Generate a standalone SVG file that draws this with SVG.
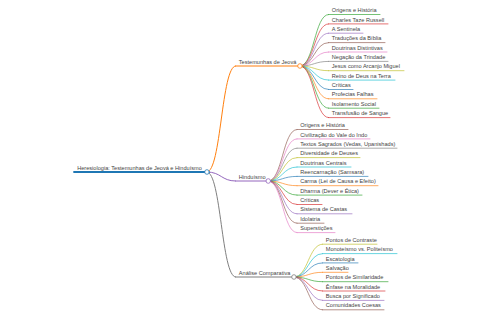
<svg xmlns="http://www.w3.org/2000/svg" width="480" height="320" viewBox="0 0 480 320">
<style>
text{font-family:"Liberation Sans",Arial,sans-serif;font-size:5.6px;fill:#444}
line,path,circle{fill:none;stroke-linecap:round}
.d0{stroke-width:1.8}.d1{stroke-width:1}.d2{stroke-width:0.65}
circle{fill:#fff;stroke-width:0.8}
.c0{stroke:#1f77b4}.c1{stroke:#ff7f0e}.c2{stroke:#2ca02c}.c3{stroke:#d62728}.c4{stroke:#9467bd}
.c5{stroke:#8c564b}.c6{stroke:#e377c2}.c7{stroke:#7f7f7f}.c8{stroke:#bcbd22}.c9{stroke:#17becf}
</style>
<rect width="480" height="320" fill="#fff"/>
<g id="connectors">
<path class="d1 c1" d="M207,172 C221.3,172 221.3,66 235.6,66"/>
<path class="d1 c4" d="M207,172 C221.3,172 221.3,181 235.6,181"/>
<path class="d1 c7" d="M207,172 C221.3,172 221.3,277 235.6,277"/>
<path class="d2 c2" d="M300,66 C314.3,66 314.3,14.5 328.6,14.5"/>
<path class="d2 c3" d="M300,66 C314.3,66 314.3,23.9 328.6,23.9"/>
<path class="d2 c4" d="M300,66 C314.3,66 314.3,33.2 328.6,33.2"/>
<path class="d2 c5" d="M300,66 C314.3,66 314.3,42.6 328.6,42.6"/>
<path class="d2 c6" d="M300,66 C314.3,66 314.3,52 328.6,52"/>
<path class="d2 c7" d="M300,66 C314.3,66 314.3,61.4 328.6,61.4"/>
<path class="d2 c8" d="M300,66 C314.3,66 314.3,70.7 328.6,70.7"/>
<path class="d2 c9" d="M300,66 C314.3,66 314.3,80.1 328.6,80.1"/>
<path class="d2 c0" d="M300,66 C314.3,66 314.3,89.5 328.6,89.5"/>
<path class="d2 c1" d="M300,66 C314.3,66 314.3,98.8 328.6,98.8"/>
<path class="d2 c2" d="M300,66 C314.3,66 314.3,108.2 328.6,108.2"/>
<path class="d2 c3" d="M300,66 C314.3,66 314.3,117.6 328.6,117.6"/>
<path class="d2 c5" d="M268.3,181 C282.6,181 282.6,129.5 297,129.5"/>
<path class="d2 c6" d="M268.3,181 C282.6,181 282.6,138.9 297,138.9"/>
<path class="d2 c7" d="M268.3,181 C282.6,181 282.6,148.2 297,148.2"/>
<path class="d2 c8" d="M268.3,181 C282.6,181 282.6,157.6 297,157.6"/>
<path class="d2 c9" d="M268.3,181 C282.6,181 282.6,167 297,167"/>
<path class="d2 c0" d="M268.3,181 C282.6,181 282.6,176.4 297,176.4"/>
<path class="d2 c1" d="M268.3,181 C282.6,181 282.6,185.7 297,185.7"/>
<path class="d2 c2" d="M268.3,181 C282.6,181 282.6,195.1 297,195.1"/>
<path class="d2 c3" d="M268.3,181 C282.6,181 282.6,204.5 297,204.5"/>
<path class="d2 c4" d="M268.3,181 C282.6,181 282.6,213.8 297,213.8"/>
<path class="d2 c5" d="M268.3,181 C282.6,181 282.6,223.2 297,223.2"/>
<path class="d2 c6" d="M268.3,181 C282.6,181 282.6,232.6 297,232.6"/>
<path class="d2 c8" d="M294,277 C308.3,277 308.3,244.2 322.6,244.2"/>
<path class="d2 c9" d="M294,277 C308.3,277 308.3,253.6 322.6,253.6"/>
<path class="d2 c0" d="M294,277 C308.3,277 308.3,262.9 322.6,262.9"/>
<path class="d2 c1" d="M294,277 C308.3,277 308.3,272.3 322.6,272.3"/>
<path class="d2 c2" d="M294,277 C308.3,277 308.3,281.7 322.6,281.7"/>
<path class="d2 c3" d="M294,277 C308.3,277 308.3,291 322.6,291"/>
<path class="d2 c4" d="M294,277 C308.3,277 308.3,300.4 322.6,300.4"/>
<path class="d2 c5" d="M294,277 C308.3,277 308.3,309.8 322.6,309.8"/>
</g>
<g id="root"><line class="d0 c0" x1="74" y1="172" x2="207" y2="172"/><text x="77.2" y="169.6">Heresiologia: Testemunhas de Jeová e Hinduísmo</text><circle class="c0" cx="207" cy="172" r="2.3"/></g>
<g id="n-tj"><line class="d1 c1" x1="235.6" y1="66" x2="300" y2="66"/><text x="238.8" y="63.6">Testemunhas de Jeová</text><circle class="c1" cx="300" cy="66" r="2.3"/></g>
<g id="n-hi"><line class="d1 c4" x1="235.6" y1="181" x2="268.3" y2="181"/><text x="238.8" y="178.6">Hinduísmo</text><circle class="c4" cx="268.3" cy="181" r="2.3"/></g>
<g id="n-ac"><line class="d1 c7" x1="235.6" y1="277" x2="294" y2="277"/><text x="238.8" y="274.6">Análise Comparativa</text><circle class="c7" cx="294" cy="277" r="2.3"/></g>
<g id="tj1"><line class="d2 c2" x1="328.6" y1="14.5" x2="380" y2="14.5"/><text x="331.8" y="12.1">Origens e História</text></g>
<g id="tj2"><line class="d2 c3" x1="328.6" y1="23.9" x2="388" y2="23.9"/><text x="331.8" y="21.5">Charles Taze Russell</text></g>
<g id="tj3"><line class="d2 c4" x1="328.6" y1="33.2" x2="363" y2="33.2"/><text x="331.8" y="30.8">A Sentinela</text></g>
<g id="tj4"><line class="d2 c5" x1="328.6" y1="42.6" x2="385" y2="42.6"/><text x="331.8" y="40.2">Traduções da Bíblia</text></g>
<g id="tj5"><line class="d2 c6" x1="328.6" y1="52" x2="387" y2="52"/><text x="331.8" y="49.6">Doutrinas Distintivas</text></g>
<g id="tj6"><line class="d2 c7" x1="328.6" y1="61.4" x2="388" y2="61.4"/><text x="331.8" y="59">Negação da Trindade</text></g>
<g id="tj7"><line class="d2 c8" x1="328.6" y1="70.7" x2="404" y2="70.7"/><text x="331.8" y="68.3">Jesus como Arcanjo Miguel</text></g>
<g id="tj8"><line class="d2 c9" x1="328.6" y1="80.1" x2="395" y2="80.1"/><text x="331.8" y="77.7">Reino de Deus na Terra</text></g>
<g id="tj9"><line class="d2 c0" x1="328.6" y1="89.5" x2="353" y2="89.5"/><text x="331.8" y="87.1">Críticas</text></g>
<g id="tj10"><line class="d2 c1" x1="328.6" y1="98.8" x2="377" y2="98.8"/><text x="331.8" y="96.4">Profecias Falhas</text></g>
<g id="tj11"><line class="d2 c2" x1="328.6" y1="108.2" x2="379" y2="108.2"/><text x="331.8" y="105.8">Isolamento Social</text></g>
<g id="tj12"><line class="d2 c3" x1="328.6" y1="117.6" x2="390" y2="117.6"/><text x="331.8" y="115.2">Transfusão de Sangue</text></g>
<g id="hi1"><line class="d2 c5" x1="297" y1="129.5" x2="348" y2="129.5"/><text x="300.2" y="127.1">Origens e História</text></g>
<g id="hi2"><line class="d2 c6" x1="297" y1="138.9" x2="370" y2="138.9"/><text x="300.2" y="136.5">Civilização do Vale do Indo</text></g>
<g id="hi3"><line class="d2 c7" x1="297" y1="148.2" x2="397" y2="148.2"/><text x="300.2" y="145.8">Textos Sagrados (Vedas, Upanishads)</text></g>
<g id="hi4"><line class="d2 c8" x1="297" y1="157.6" x2="360" y2="157.6"/><text x="300.2" y="155.2">Diversidade de Deuses</text></g>
<g id="hi5"><line class="d2 c9" x1="297" y1="167" x2="351" y2="167"/><text x="300.2" y="164.6">Doutrinas Centrais</text></g>
<g id="hi6"><line class="d2 c0" x1="297" y1="176.4" x2="368" y2="176.4"/><text x="300.2" y="174">Reencarnação (Samsara)</text></g>
<g id="hi7"><line class="d2 c1" x1="297" y1="185.7" x2="378" y2="185.7"/><text x="300.2" y="183.3">Carma (Lei de Causa e Efeito)</text></g>
<g id="hi8"><line class="d2 c2" x1="297" y1="195.1" x2="362" y2="195.1"/><text x="300.2" y="192.7">Dharma (Dever e Ética)</text></g>
<g id="hi9"><line class="d2 c3" x1="297" y1="204.5" x2="322" y2="204.5"/><text x="300.2" y="202.1">Críticas</text></g>
<g id="hi10"><line class="d2 c4" x1="297" y1="213.8" x2="352" y2="213.8"/><text x="300.2" y="211.4">Sistema de Castas</text></g>
<g id="hi11"><line class="d2 c5" x1="297" y1="223.2" x2="324" y2="223.2"/><text x="300.2" y="220.8">Idolatria</text></g>
<g id="hi12"><line class="d2 c6" x1="297" y1="232.6" x2="335" y2="232.6"/><text x="300.2" y="230.2">Superstições</text></g>
<g id="ac1"><line class="d2 c8" x1="322.6" y1="244.2" x2="377" y2="244.2"/><text x="325.8" y="241.8">Pontos de Contraste</text></g>
<g id="ac2"><line class="d2 c9" x1="322.6" y1="253.6" x2="397" y2="253.6"/><text x="325.8" y="251.2">Monoteísmo vs. Politeísmo</text></g>
<g id="ac3"><line class="d2 c0" x1="322.6" y1="262.9" x2="358" y2="262.9"/><text x="325.8" y="260.5">Escatologia</text></g>
<g id="ac4"><line class="d2 c1" x1="322.6" y1="272.3" x2="348" y2="272.3"/><text x="325.8" y="269.9">Salvação</text></g>
<g id="ac5"><line class="d2 c2" x1="322.6" y1="281.7" x2="388" y2="281.7"/><text x="325.8" y="279.3">Pontos de Similaridade</text></g>
<g id="ac6"><line class="d2 c3" x1="322.6" y1="291" x2="385" y2="291"/><text x="325.8" y="288.6">Ênfase na Moralidade</text></g>
<g id="ac7"><line class="d2 c4" x1="322.6" y1="300.4" x2="384" y2="300.4"/><text x="325.8" y="298">Busca por Significado</text></g>
<g id="ac8"><line class="d2 c5" x1="322.6" y1="309.8" x2="384" y2="309.8"/><text x="325.8" y="307.4">Comunidades Coesas</text></g>
</svg>
